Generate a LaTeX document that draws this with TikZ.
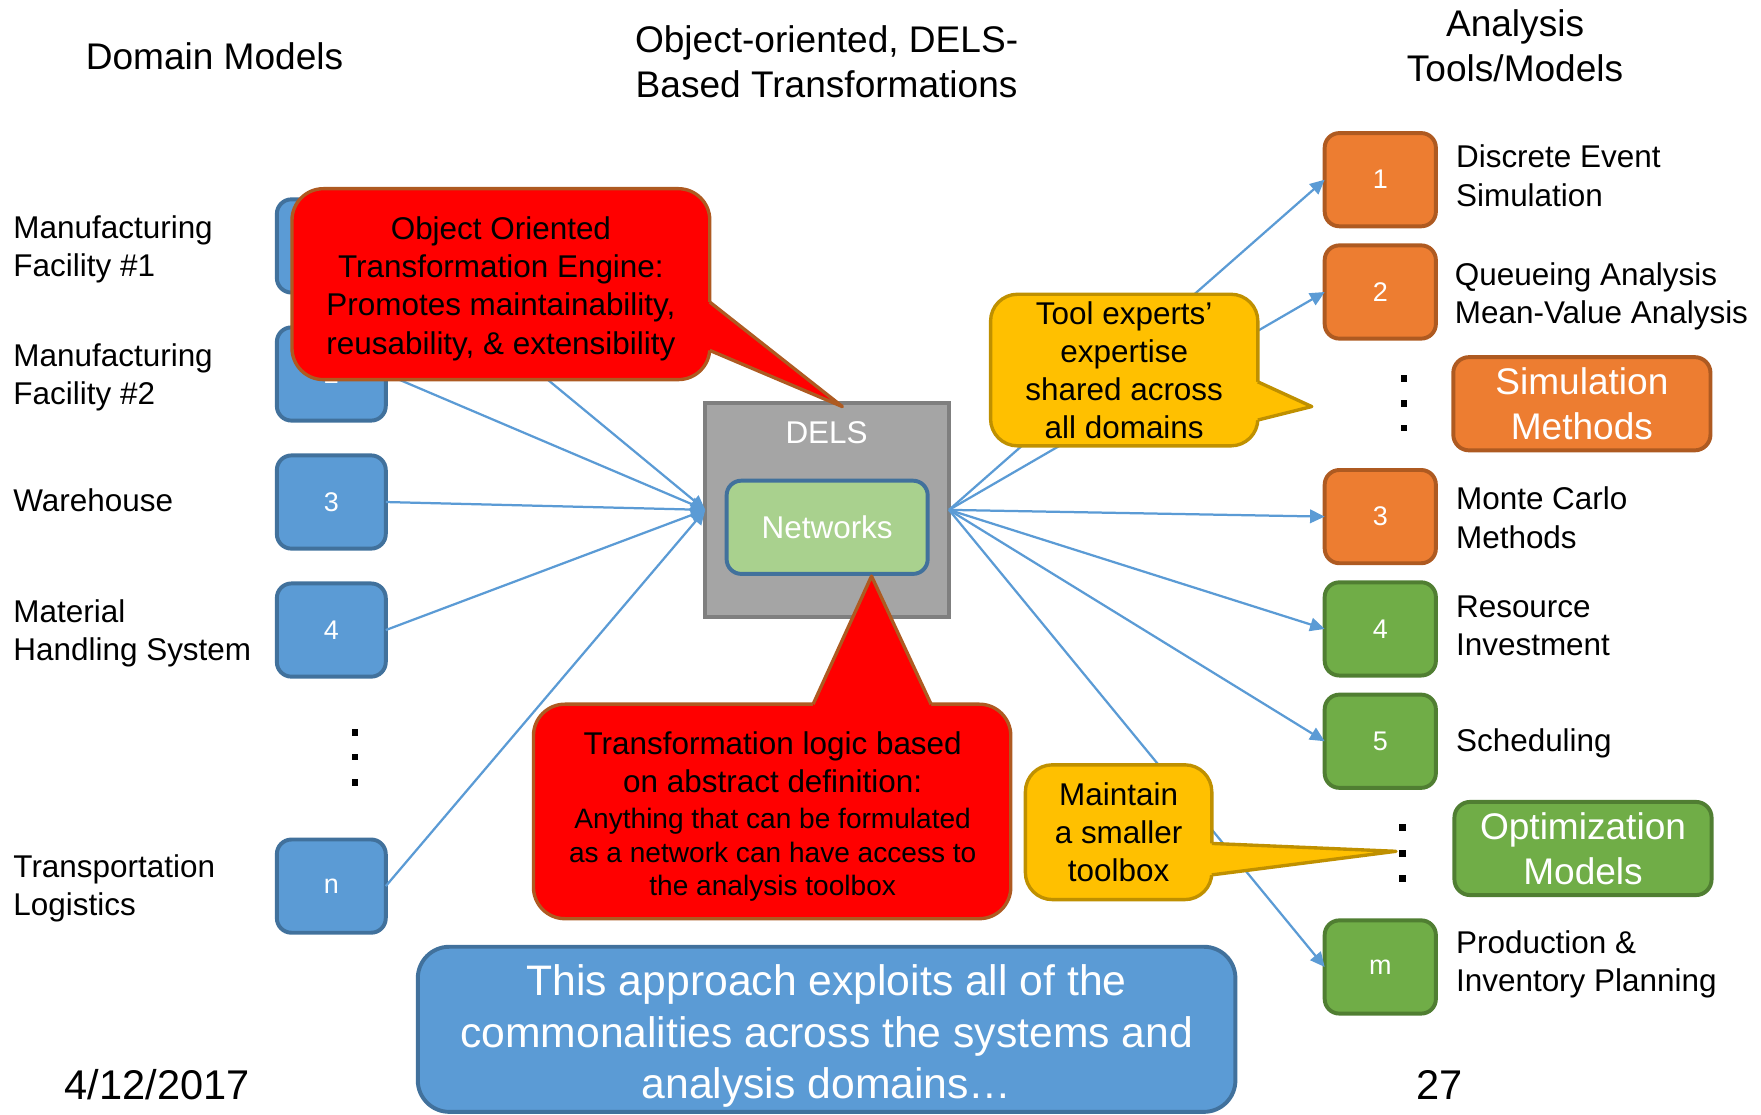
\documentclass[tikz,border=0pt]{standalone}
\usepackage{fontspec}
\setmainfont{Liberation Sans}
\usepackage{tikz}
\usetikzlibrary{positioning}
\usetikzlibrary{arrows.meta}
\definecolor{bluefill}{RGB}{91,155,213}
\definecolor{blueline}{RGB}{65,113,156}
\definecolor{orangefill}{RGB}{237,125,49}
\definecolor{orangeline}{RGB}{174,90,33}
\definecolor{greenfill}{RGB}{112,173,71}
\definecolor{greenline}{RGB}{80,126,50}
\definecolor{delsfill}{RGB}{165,165,165}
\definecolor{delsline}{RGB}{127,127,127}
\definecolor{netfill}{RGB}{169,209,142}
\definecolor{redfill}{RGB}{255,0,0}
\definecolor{brownline}{RGB}{174,90,33}
\definecolor{yellowfill}{RGB}{255,192,0}
\definecolor{yellowline}{RGB}{191,144,0}

\begin{document}
\begin{tikzpicture}[x=1pt, y=-1pt,
every node/.style={inner sep=0pt, outer sep=0pt},
title/.style={font=\fontsize{33}{40}\selectfont, align=center},
txt/.style={font=\fontsize{28}{34}\selectfont, align=left},
dombox/.style={rectangle, rounded corners=13pt, minimum width=97pt, minimum height=83pt, fill=bluefill, draw=blueline, line width=3.5pt, text=white, font=\fontsize{24}{28}\selectfont},
simbox/.style={dombox, minimum width=99pt, fill=orangefill, draw=orangeline},
optbox/.style={simbox, fill=greenfill, draw=greenline},
link/.style={draw=bluefill, line width=2pt, -{Triangle[length=13pt, width=12pt]}},
callred/.style={rectangle, rounded corners=28pt, fill=redfill, draw=brownline, line width=3pt, align=center, font=\fontsize{28}{34}\selectfont},
callyel/.style={rectangle, rounded corners=24pt, fill=yellowfill, draw=yellowline, line width=3pt, align=center, font=\fontsize{28}{34}\selectfont},
dot/.style={fill=black}]
\useasboundingbox (0,0) rectangle (1568,992);

% titles
\node[title] (domTitle) at (191,50) {Domain Models};
\node[title] (transTitle) at (736,55) {Object-oriented, DELS-\\Based Transformations};
\node[title] (toolTitle) at (1349,41) {Analysis\\Tools/Models};

% domain models
\node[dombox] (dom1) at (295,219) {1};
\node[dombox] (dom2) at (295,333) {2};
\node[dombox] (dom3) at (295,447) {3};
\node[dombox] (dom4) at (295,561) {4};
\node[dombox] (domn) at (295,789) {n};
\node[txt, anchor=west] (lab1) at (12,222) {Manufacturing\\Facility \#1};
\node[txt, anchor=west] (lab2) at (12,336) {Manufacturing\\Facility \#2};
\node[txt, anchor=west] (lab3) at (12,445) {Warehouse};
\node[txt, anchor=west] (lab4) at (12,564) {Material\\Handling System};
\node[txt, anchor=west] (labn) at (12,791) {Transportation\\Logistics};
\fill[dot] (313,649) rectangle (319,655);
\fill[dot] (313,671) rectangle (319,677);
\fill[dot] (313,694) rectangle (319,700);

% DELS
\node[rectangle, minimum width=217pt, minimum height=190pt, fill=delsfill, draw=delsline, line width=3.5pt] (dels) at (736.5,454) {};
\node[font=\fontsize{28}{34}\selectfont, text=white] (delsLabel) at (736,385) {DELS};
\node[rectangle, rounded corners=13pt, minimum width=179pt, minimum height=83pt, fill=netfill, draw=blueline, line width=3.5pt, text=white, font=\fontsize{28}{34}\selectfont] (networks) at (736.5,469.5) {Networks};

% analysis tools
\node[simbox] (tool1) at (1229,160) {1};
\node[simbox] (tool2) at (1229,260) {2};
\node[simbox] (tool3) at (1229,460) {3};
\node[optbox] (tool4) at (1229,560) {4};
\node[optbox] (tool5) at (1229,660) {5};
\node[optbox] (toolm) at (1229,861) {m};
\node[txt, right=18pt of tool1, yshift=3.5pt] (des) {Discrete Event\\Simulation};
\node[txt, right=17pt of tool2, yshift=-4pt] (queue) {Queueing Analysis\\Mean-Value Analysis};
\node[txt, right=18pt of tool3, yshift=-1pt] (monte) {Monte Carlo\\Methods};
\node[txt, right=18pt of tool4, yshift=2.5pt] (resource) {Resource\\Investment};
\node[txt, right=18pt of tool5, yshift=-2pt] (sched) {Scheduling};
\node[txt, right=18pt of toolm, yshift=2pt] (prod) {Production \&\\Inventory Planning};
\node[simbox, minimum width=229pt, rounded corners=14pt, font=\fontsize{33}{40}\selectfont, align=center] (simMethods) at (1408.5,359.5) {Simulation\\Methods};
\node[optbox, minimum width=229pt, rounded corners=14pt, font=\fontsize{33}{40}\selectfont, align=center] (optModels) at (1409.5,755.5) {Optimization\\Models};
\fill[dot] (1247,334) rectangle (1253,340);
\fill[dot] (1247,356) rectangle (1253,362);
\fill[dot] (1247,378) rectangle (1253,384);
\fill[dot] (1246,734) rectangle (1252,740);
\fill[dot] (1246,757) rectangle (1252,763);
\fill[dot] (1246,779) rectangle (1252,785);

% connectors
\draw[link] (dom1.east) -- (dels.west);
\draw[link] (dom2.east) -- (dels.west);
\draw[link] (dom3.east) -- (dels.west);
\draw[link] (dom4.east) -- (dels.west);
\draw[link] (domn.east) -- (dels.west);
\draw[link] (dels.east) -- (tool1.west);
\draw[link] (dels.east) -- (tool2.west);
\draw[link] (dels.east) -- (tool3.west);
\draw[link] (dels.east) -- (tool4.west);
\draw[link] (dels.east) -- (tool5.west);
\draw[link] (dels.east) -- (toolm.west);

% callouts
\node[callred, minimum width=372pt, minimum height=170pt] (engine) at (446,253) {};
\node[font=\fontsize{28}{34}\selectfont, align=center] (engineText) at (446,257) {Object Oriented\\Transformation Engine:\\Promotes maintainability,\\reusability, \& extensibility};
\coordinate (engineTip) at (750,362);
\fill[redfill] (626,269) -- (632,269) -- (engineTip) -- (632,312) -- (626,312) -- cycle;
\draw[brownline, line width=3pt, line join=round] (632,269) -- (engineTip) -- (632,312);

\node[callred, minimum width=425pt, minimum height=191pt] (logic) at (687.5,722.5) {};
\node[font=\fontsize{28}{34}\selectfont, align=center] (logicText) at (688,727) {Transformation logic based\\on abstract definition:\\[-2pt]{\fontsize{25}{30}\selectfont Anything that can be formulated}\\[-4pt]{\fontsize{25}{30}\selectfont as a network can have access to}\\[-4pt]{\fontsize{25}{30}\selectfont the analysis toolbox}};
\coordinate (logicTip) at (776,513);
\fill[redfill] (724,633) -- (724,627) -- (logicTip) -- (829,627) -- (829,633) -- cycle;
\draw[brownline, line width=3pt, line join=round] (724,627) -- (logicTip) -- (829,627);

\node[callyel, minimum width=238pt, minimum height=135pt] (experts) at (1001,329.5) {Tool experts'\\expertise\\shared across\\all domains};
\coordinate (expertsTip) at (1168,362);
\fill[yellowfill] (1114,340) -- (1120,340) -- (expertsTip) -- (1120,374) -- (1114,374) -- cycle;
\draw[yellowline, line width=3pt, line join=round] (1120,340) -- (expertsTip) -- (1120,374);

\node[callyel, minimum width=166pt, minimum height=120pt] (toolbox) at (996,741) {Maintain\\a smaller\\toolbox};
\coordinate (toolboxTip) at (1243,758);
\fill[yellowfill] (1073,751) -- (1079,751) -- (toolboxTip) -- (1079,779) -- (1073,779) -- cycle;
\draw[yellowline, line width=3pt, line join=round] (1079,751) -- (toolboxTip) -- (1079,779);

% bottom
\node[rectangle, rounded corners=28pt, minimum width=728pt, minimum height=147pt, fill=bluefill, draw=blueline, line width=3.5pt] (approach) at (736,916.5) {};
\node[text=white, align=center, font=\fontsize{38}{46}\selectfont] (approachText) at (736,922.5) {This approach exploits all of the\\commonalities across the systems and\\analysis domains…};
\node[font=\fontsize{37}{44}\selectfont] (date) at (140,966) {4/12/2017};
\node[font=\fontsize{37}{44}\selectfont] (page) at (1282,966) {27};
\end{tikzpicture}
\end{document}
